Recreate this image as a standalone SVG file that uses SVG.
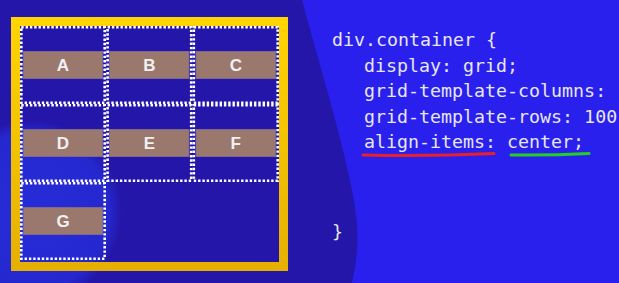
<svg xmlns="http://www.w3.org/2000/svg" width="619" height="283" viewBox="0 0 619 283">
  <defs>
    <linearGradient id="gold" x1="0" y1="0" x2="0" y2="1">
      <stop offset="0" stop-color="#ffd400"/>
      <stop offset="1" stop-color="#e6b000"/>
    </linearGradient>
    <radialGradient id="glow" cx="30" cy="212" r="92" gradientUnits="userSpaceOnUse">
      <stop offset="0" stop-color="#2630e0" stop-opacity="0.85"/>
      <stop offset="0.85" stop-color="#2630e0" stop-opacity="0.7"/>
      <stop offset="1" stop-color="#2630e0" stop-opacity="0"/>
    </radialGradient>
    <style>
      .cell { fill: none; stroke: #ffffff; stroke-width: 2.6; stroke-dasharray: 2.4 1.9; }
      .bar { fill: #9a786e; stroke: #7e6890; stroke-width: 1; }
      .lbl { font-family: "Liberation Sans", Arial, sans-serif; font-weight: bold; font-size: 17px; fill: #f2f0f0; text-anchor: middle; }
      .code { font-family: "DejaVu Sans Mono", "Liberation Mono", monospace; font-size: 18.3px; fill: #e6e6f0; }
    </style>
  </defs>

  <!-- backdrop -->
  <rect x="0" y="0" width="619" height="283" fill="#2a20ee"/>
  <path d="M0,0 H302 C318,60 340,130 352,190 C362,240 356,262 352,283 H0 Z" fill="#2416a8"/>
  <circle cx="30" cy="212" r="92" fill="url(#glow)"/>

  <!-- grid container frame -->
  <g id="container">
    <rect x="15.5" y="21.5" width="268" height="245" fill="none" stroke="url(#gold)" stroke-width="9"/>
  </g>

  <!-- grid items -->
  <g id="item-a">
    <rect class="cell" x="21.3" y="27.3" width="83.4" height="75.4"/>
    <rect class="bar" x="23.5" y="51.5" width="79" height="27"/>
    <text class="lbl" x="63" y="71">A</text>
  </g>
  <g id="item-b">
    <rect class="cell" x="107.6" y="27.3" width="83.6" height="75.4"/>
    <rect class="bar" x="109.5" y="51.5" width="79.5" height="27"/>
    <text class="lbl" x="149.3" y="71">B</text>
  </g>
  <g id="item-c">
    <rect class="cell" x="193.8" y="27.3" width="83.9" height="75.4"/>
    <rect class="bar" x="196" y="51.5" width="79.5" height="27"/>
    <text class="lbl" x="235.8" y="71">C</text>
  </g>
  <g id="item-d">
    <rect class="cell" x="21.3" y="105.3" width="83.4" height="75.4"/>
    <rect class="bar" x="23.5" y="129.5" width="79" height="27"/>
    <text class="lbl" x="63" y="149">D</text>
  </g>
  <g id="item-e">
    <rect class="cell" x="107.6" y="105.3" width="83.6" height="75.4"/>
    <rect class="bar" x="109.5" y="129.5" width="79.5" height="27"/>
    <text class="lbl" x="149.3" y="149">E</text>
  </g>
  <g id="item-f">
    <rect class="cell" x="193.8" y="105.3" width="83.9" height="75.4"/>
    <rect class="bar" x="196" y="129.5" width="79.5" height="27"/>
    <text class="lbl" x="235.8" y="149">F</text>
  </g>
  <g id="item-g">
    <rect class="cell" x="21.3" y="183.3" width="83.4" height="75.4"/>
    <rect class="bar" x="23.5" y="207.5" width="79" height="27"/>
    <text class="lbl" x="63" y="227">G</text>
  </g>

  <!-- css source -->
  <g id="code">
    <text class="code" x="332" y="46">div.container {</text>
    <text class="code" x="364" y="71.5">display: grid;</text>
    <text class="code" x="364" y="97">grid-template-columns:</text>
    <text class="code" x="364" y="122.5">grid-template-rows: 100</text>
    <text class="code" x="364" y="148">align-items: center;</text>
    <text class="code" x="332" y="238">}</text>
  </g>

  <!-- highlight strokes -->
  <g id="underlines" fill="none" stroke-width="3" stroke-linecap="round">
    <path d="M363,155 Q430,156.5 494,153.5" stroke="#e8202a"/>
    <path d="M511,155 Q550,155.5 589,153.5" stroke="#22d022"/>
  </g>
</svg>
